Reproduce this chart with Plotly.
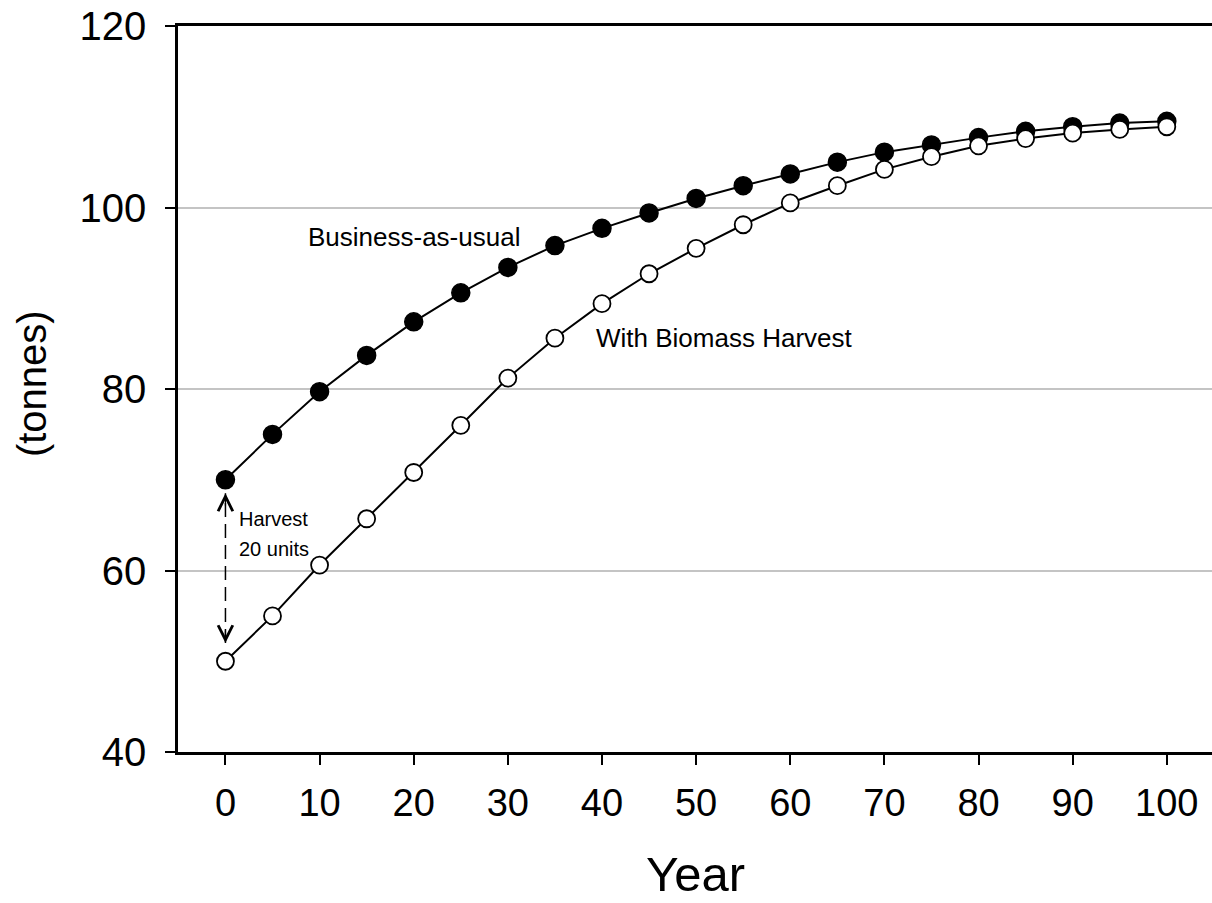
import plotly.graph_objects as go

years = [0, 5, 10, 15, 20, 25, 30, 35, 40, 45, 50, 55, 60, 65, 70, 75, 80, 85, 90, 95, 100]
business_as_usual = [70.0, 75.0, 79.7, 83.7, 87.4, 90.6, 93.4, 95.8, 97.7, 99.4, 101.0,
                     102.4, 103.7, 105.0, 106.1, 106.9, 107.7, 108.4, 108.9, 109.3, 109.5]
with_harvest = [50.0, 55.0, 60.6, 65.7, 70.8, 76.0, 81.2, 85.6, 89.4, 92.7, 95.5,
                98.1, 100.5, 102.4, 104.2, 105.6, 106.8, 107.6, 108.2, 108.6, 108.9]
x_ticks = [0, 10, 20, 30, 40, 50, 60, 70, 80, 90, 100]
y_ticks = [40, 60, 80, 100, 120]

FONT = "Liberation Sans, Arial, sans-serif"

fig = go.Figure()
fig.add_trace(go.Scatter(
    x=years, y=business_as_usual, mode="lines+markers", name="Business-as-usual",
    line=dict(color="black", width=2),
    marker=dict(symbol="circle", size=18, color="black", line=dict(color="black", width=1.5)),
    cliponaxis=False,
))
fig.add_trace(go.Scatter(
    x=years, y=with_harvest, mode="lines+markers", name="With Biomass Harvest",
    line=dict(color="black", width=2),
    marker=dict(symbol="circle", size=17, color="white", line=dict(color="black", width=1.8)),
    cliponaxis=False,
))

# dashed harvest arrow
fig.add_shape(type="line", x0=0, x1=0, y0=52.0, y1=68.5, xref="x", yref="y",
              line=dict(color="black", width=1.5, dash="14px,7px"))
for tip, off in [(68.5, 14), (52.0, -14)]:
    fig.add_annotation(x=0, y=tip, xref="x", yref="y", ax=0, ay=off, text="",
                       showarrow=True, arrowhead=5, arrowsize=2.4, arrowwidth=1.2,
                       arrowcolor="black")

fig.add_annotation(x=1.2, y=65.7, xref="x", yref="y", text="Harvest",
                   showarrow=False, xanchor="left", yanchor="middle",
                   font=dict(family=FONT, size=20, color="black"))
fig.add_annotation(x=1.2, y=62.4, xref="x", yref="y", text="20 units",
                   showarrow=False, xanchor="left", yanchor="middle",
                   font=dict(family=FONT, size=20, color="black"))
fig.add_annotation(x=20.0, y=96.7, xref="x", yref="y", text="Business-as-usual",
                   showarrow=False, xanchor="center", yanchor="middle",
                   font=dict(family=FONT, size=26, color="black"))
fig.add_annotation(x=53.0, y=85.6, xref="x", yref="y", text="With Biomass Harvest",
                   showarrow=False, xanchor="center", yanchor="middle",
                   font=dict(family=FONT, size=26, color="black"))

# axis titles
fig.add_annotation(x=-0.141, y=0.507, xref="paper", yref="paper", text="(tonnes)",
                   textangle=-90, showarrow=False, xanchor="center", yanchor="middle",
                   font=dict(family=FONT, size=40, color="black"))
fig.add_annotation(x=0.5, y=-0.168, xref="paper", yref="paper", text="Year",
                   showarrow=False, xanchor="center", yanchor="middle",
                   font=dict(family=FONT, size=49, color="black"))

fig.update_layout(
    width=1212, height=903,
    margin=dict(l=178, r=0, t=26, b=151),
    paper_bgcolor="white", plot_bgcolor="white",
    showlegend=False,
    font=dict(family=FONT, color="black"),
)
fig.update_xaxes(
    range=[-5.04, 104.8], tickvals=x_ticks, ticktext=[str(v) for v in x_ticks],
    showgrid=False, zeroline=False, showline=True, linecolor="black", linewidth=2.5,
    mirror=True, ticks="outside", ticklen=10, tickwidth=2, tickcolor="black",
    tickfont=dict(family=FONT, size=38, color="black"), ticklabelstandoff=6,
)
fig.update_yaxes(
    range=[40, 120], tickvals=y_ticks, ticktext=[str(v) for v in y_ticks],
    showgrid=True, gridcolor="#c4c4c4", gridwidth=2, zeroline=False,
    showline=True, linecolor="black", linewidth=2.5,
    ticks="outside", ticklen=10, tickwidth=2, tickcolor="black",
    tickfont=dict(family=FONT, size=40, color="black"), ticklabelstandoff=11,
)

fig.write_html(
    "out.html",
    config={"displayModeBar": False},
    post_script="document.body.style.margin='0';document.body.style.overflow='hidden';",
)
